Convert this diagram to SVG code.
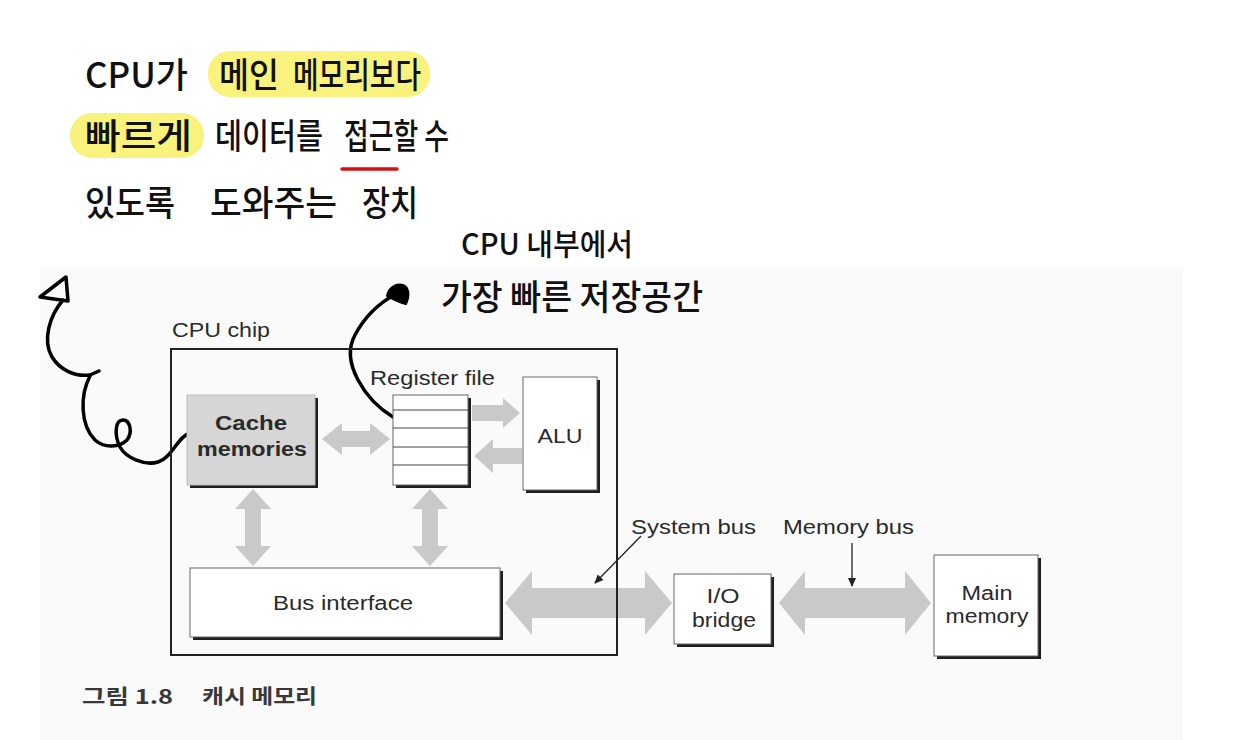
<svg xmlns="http://www.w3.org/2000/svg" width="1235" height="740" viewBox="0 0 1235 740">
<style>
.lbl{font-family:"Liberation Sans",Arial,sans-serif;font-size:20px;fill:#2a2a2a}
.bold{font-weight:bold}
.hw{font-family:"Noto Sans CJK KR","Noto Sans",sans-serif;font-size:35px;font-weight:500;fill:#111}
.hw2{font-family:"Noto Sans CJK KR","Noto Sans",sans-serif;font-size:30px;font-weight:500;fill:#111}
.cap{font-family:"Noto Sans CJK KR","Liberation Sans",sans-serif;font-size:20px;font-weight:bold;fill:#383838}
.box{fill:#ffffff;stroke:#666;stroke-width:1}
.shadow{fill:#1e1e1e}
.garrow{fill:#c9c9c9}
.thin{stroke:#222;stroke-width:1.3;fill:none}
.pen{stroke:#000;stroke-width:3.5;fill:none;stroke-linecap:round;stroke-linejoin:round}
.hl{fill:#f9f27c}
</style>
<defs>
<marker id="ah" markerWidth="10" markerHeight="10" refX="8" refY="5" orient="auto" markerUnits="userSpaceOnUse">
<path d="M0,1 L9,5 L0,9 Z" fill="#222"/>
</marker>
</defs>
<rect x="0" y="0" width="1235" height="740" fill="#ffffff"/>
<rect x="40" y="268" width="1143" height="472" fill="#fafafa"/>

<!-- handwritten notes -->
<g id="note1">
<rect class="hl" x="208" y="51" width="222" height="46" rx="22"/>
<rect class="hl" x="70" y="113" width="134" height="45" rx="22"/>
<text class="hw" x="85" y="88" textLength="103" lengthAdjust="spacingAndGlyphs">CPU가</text>
<text class="hw" x="219" y="88" textLength="60" lengthAdjust="spacingAndGlyphs">메인</text>
<text class="hw" x="293" y="88" textLength="128" lengthAdjust="spacingAndGlyphs">메모리보다</text>
<text class="hw" x="85" y="149" textLength="107" lengthAdjust="spacingAndGlyphs">빠르게</text>
<text class="hw" x="215" y="149" textLength="108" lengthAdjust="spacingAndGlyphs">데이터를</text>
<text class="hw" x="344" y="149" textLength="105" lengthAdjust="spacingAndGlyphs">접근할 수</text>
<line x1="342" y1="169" x2="397" y2="169" stroke="#d40f0f" stroke-width="3.5" stroke-linecap="round"/>
<text class="hw" x="85" y="216" textLength="90" lengthAdjust="spacingAndGlyphs">있도록</text>
<text class="hw" x="210" y="216" textLength="127" lengthAdjust="spacingAndGlyphs">도와주는</text>
<text class="hw" x="362" y="216" textLength="56" lengthAdjust="spacingAndGlyphs">장치</text>
</g>
<g id="note2">
<text class="hw2" x="461" y="255" textLength="172" lengthAdjust="spacingAndGlyphs">CPU 내부에서</text>
<text class="hw" x="441" y="310" textLength="262" lengthAdjust="spacingAndGlyphs">가장 빠른 저장공간</text>
</g>

<!-- connectors -->
<g id="connectors">
<path class="garrow" d="M322,439 L342,423 L342,431 L370,431 L370,423 L390,439 L370,455 L370,447 L342,447 L342,455 Z"/>
<path class="garrow" d="M472,405 L503,405 L503,398 L520,413 L503,428 L503,421 L472,421 Z"/>
<path class="garrow" d="M522,448 L493,448 L493,439 L474,456 L493,473 L493,464 L522,464 Z"/>
<path class="garrow" d="M253,489 L271,509 L261,509 L261,546 L271,546 L253,566 L235,546 L245,546 L245,509 L235,509 Z"/>
<path class="garrow" d="M430,489 L448,509 L438,509 L438,546 L448,546 L430,566 L412,546 L422,546 L422,509 L412,509 Z"/>
<path class="garrow" d="M505,603 L532,571 L532,588 L645,588 L645,571 L672,603 L645,635 L645,618 L532,618 L532,635 Z"/>
<path class="garrow" d="M779,603 L805,571 L805,588 L905,588 L905,571 L931,603 L905,635 L905,618 L805,618 L805,635 Z"/>
<line class="thin" x1="641" y1="536" x2="595" y2="583" marker-end="url(#ah)"/>
<line class="thin" x1="852" y1="543" x2="852" y2="586" marker-end="url(#ah)"/>
<!-- handwritten arrows -->
<path class="pen" d="M63,300 C50,315 42,340 52,357 C60,370 75,377 90,375 L99,371"/>
<path class="pen" d="M90,376 C80,395 80,425 95,440 C105,449 120,447 127,440 C133,432 130,420 123,420 C115,420 114,435 120,447 C126,458 145,466 158,462 C172,458 178,436 190,433"/>
<path class="pen" d="M66,277 L40,297 L68,301 Z"/>
<path class="pen" d="M393,417 C365,400 340,362 355,335 C364,318 378,304 394,295"/>
<path d="M387,296 C388,288 396,283 403,285 C409,287 410,296 406,304 C400,303 394,300 387,296 Z" fill="#000" stroke="#000" stroke-width="2" stroke-linejoin="round"/>
</g>

<!-- CPU chip -->
<g id="cpu-chip">
<text class="lbl" x="172" y="337" textLength="98" lengthAdjust="spacingAndGlyphs">CPU chip</text>
</g>

<g id="cache">
<rect class="shadow" x="190" y="398" width="128" height="90"/>
<rect x="187" y="395" width="128" height="90" fill="#d6d6d6" stroke="#bbb" stroke-width="1"/>
<text class="lbl bold" x="251" y="430" text-anchor="middle" textLength="72" lengthAdjust="spacingAndGlyphs">Cache</text>
<text class="lbl bold" x="252" y="456" text-anchor="middle" textLength="110" lengthAdjust="spacingAndGlyphs">memories</text>
</g>

<g id="register-file">
<text class="lbl" x="370" y="385" textLength="125" lengthAdjust="spacingAndGlyphs">Register file</text>
<rect class="shadow" x="396" y="398" width="75" height="90"/>
<rect class="box" x="393" y="395" width="75" height="90"/>
<path d="M393,410 H468 M393,428 H468 M393,447 H468 M393,465 H468" stroke="#444" stroke-width="1.2"/>
</g>

<g id="alu">
<rect class="shadow" x="526" y="380" width="74" height="113"/>
<rect class="box" x="523" y="377" width="74" height="113"/>
<text class="lbl" x="560" y="443" text-anchor="middle" textLength="45" lengthAdjust="spacingAndGlyphs">ALU</text>
</g>

<g id="bus-interface">
<rect class="shadow" x="193" y="571" width="310" height="69"/>
<rect class="box" x="190" y="568" width="310" height="69"/>
<text class="lbl" x="273" y="610" textLength="140" lengthAdjust="spacingAndGlyphs">Bus interface</text>
</g>

<rect id="cpu-chip-border" x="171" y="349" width="446" height="306" fill="none" stroke="#222" stroke-width="2"/>

<g id="io-bridge">
<rect class="shadow" x="677" y="577" width="97" height="70"/>
<rect class="box" x="674" y="574" width="97" height="70"/>
<text class="lbl" x="723" y="603" text-anchor="middle" textLength="33" lengthAdjust="spacingAndGlyphs">I/O</text>
<text class="lbl" x="724" y="627" text-anchor="middle" textLength="64" lengthAdjust="spacingAndGlyphs">bridge</text>
</g>

<g id="main-memory">
<rect class="shadow" x="937" y="558" width="104" height="101"/>
<rect class="box" x="934" y="555" width="104" height="101"/>
<text class="lbl" x="987" y="600" text-anchor="middle" textLength="51" lengthAdjust="spacingAndGlyphs">Main</text>
<text class="lbl" x="987" y="623" text-anchor="middle" textLength="83" lengthAdjust="spacingAndGlyphs">memory</text>
</g>

<g id="bus-labels">
<text class="lbl" x="631" y="534" textLength="125" lengthAdjust="spacingAndGlyphs">System bus</text>
<text class="lbl" x="783" y="534" textLength="131" lengthAdjust="spacingAndGlyphs">Memory bus</text>
</g>

<g id="caption">
<text class="cap" x="82" y="704" textLength="91" lengthAdjust="spacingAndGlyphs">그림 1.8</text>
<text class="cap" x="202" y="704" textLength="115" lengthAdjust="spacingAndGlyphs">캐시 메모리</text>
</g>
</svg>
